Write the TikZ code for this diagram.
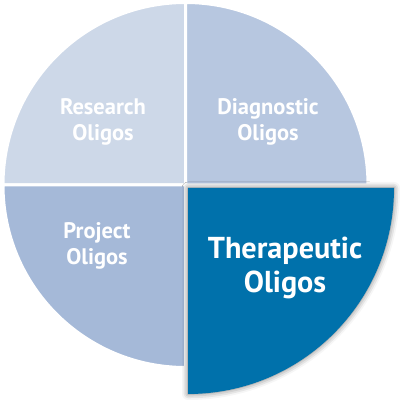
\documentclass[tikz,border=0pt]{standalone}
\usepackage{fontspec}
\setmainfont{PT Sans}
\usetikzlibrary{positioning,shadows.blur}
\definecolor{researchblue}{RGB}{205,216,232}
\definecolor{diagblue}{RGB}{183,199,224}
\definecolor{projblue}{RGB}{165,185,216}
\definecolor{therablue}{RGB}{0,113,171}
\tikzset{
    wedge/.style = {draw=white, line width=0.75mm},
    oligo/.style = {text=white, align=center,
                 font=\bfseries\fontsize{16}{18.5}\selectfont},
    bigoligo/.style = {oligo, font=\bfseries\fontsize{21.5}{24.5}\selectfont},
}

\begin{document}
\begin{tikzpicture}[x=0.25mm,y=0.25mm]
\useasboundingbox (0,0) rectangle (400,400);
\coordinate (C) at (185.5,215);

\path[wedge,fill=researchblue] (C) -- ++(-182.5,0) arc[start angle=180,end angle=90,radius=182.5] -- cycle;
\path[wedge,fill=diagblue] (C) -- ++(0,182.5) arc[start angle=90,end angle=0,radius=182.5] -- cycle;
\path[wedge,fill=projblue] (C) -- ++(0,-182.5) arc[start angle=270,end angle=180,radius=182.5] -- cycle;
\path[fill=therablue,blur shadow={shadow xshift=0pt,shadow yshift=0pt,shadow blur radius=1.5mm,shadow opacity=55}]
 (188,212) -- (394,212) arc[start angle=0,end angle=-90,radius=206] -- cycle;

\node (research) [oligo] at (103,278) {Research\\Oligos};
\node (diag) [oligo] at (268,278) {Diagnostic\\Oligos};
\node (proj) [oligo] at (97,154) {Project\\Oligos};
\node (thera) [bigoligo] at (285,132) {Therapeutic\\Oligos};
\end{tikzpicture}
\end{document}
